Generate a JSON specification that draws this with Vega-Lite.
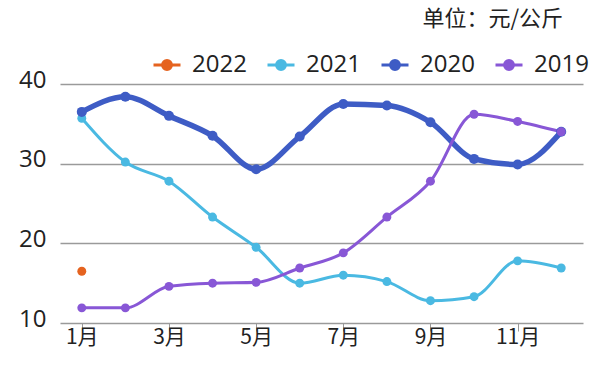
{
  "$schema": "https://vega.github.io/schema/vega-lite/v6.json",
  "width": 523,
  "height": 239,
  "autosize": {"type": "none"},
  "padding": {"left": 60, "top": 84, "right": 17, "bottom": 56},
  "background": "white",
  "title": {
    "text": "单位：元/公斤",
    "anchor": "end",
    "orient": "top",
    "frame": "group",
    "font": "Noto Sans CJK SC",
    "fontSize": 22,
    "fontWeight": "normal",
    "color": "#222222",
    "offset": 19,
    "dx": -20
  },
  "config": {"view": {"stroke": null}},
  "data": {
    "values": [
      {"year": "2021", "month": 1, "price": 35.7},
      {"year": "2021", "month": 2, "price": 30.2},
      {"year": "2021", "month": 3, "price": 27.8},
      {"year": "2021", "month": 4, "price": 23.3},
      {"year": "2021", "month": 5, "price": 19.5},
      {"year": "2021", "month": 6, "price": 15.0},
      {"year": "2021", "month": 7, "price": 16.0},
      {"year": "2021", "month": 8, "price": 15.2},
      {"year": "2021", "month": 9, "price": 12.8},
      {"year": "2021", "month": 10, "price": 13.3},
      {"year": "2021", "month": 11, "price": 17.8},
      {"year": "2021", "month": 12, "price": 16.9},
      {"year": "2020", "month": 1, "price": 36.5},
      {"year": "2020", "month": 2, "price": 38.4},
      {"year": "2020", "month": 3, "price": 36.0},
      {"year": "2020", "month": 4, "price": 33.5},
      {"year": "2020", "month": 5, "price": 29.3},
      {"year": "2020", "month": 6, "price": 33.4},
      {"year": "2020", "month": 7, "price": 37.5},
      {"year": "2020", "month": 8, "price": 37.3},
      {"year": "2020", "month": 9, "price": 35.2},
      {"year": "2020", "month": 10, "price": 30.6},
      {"year": "2020", "month": 11, "price": 29.9},
      {"year": "2020", "month": 12, "price": 34.0},
      {"year": "2019", "month": 1, "price": 11.9},
      {"year": "2019", "month": 2, "price": 11.9},
      {"year": "2019", "month": 3, "price": 14.6},
      {"year": "2019", "month": 4, "price": 15.0},
      {"year": "2019", "month": 5, "price": 15.1},
      {"year": "2019", "month": 6, "price": 16.9},
      {"year": "2019", "month": 7, "price": 18.8},
      {"year": "2019", "month": 8, "price": 23.3},
      {"year": "2019", "month": 9, "price": 27.8},
      {"year": "2019", "month": 10, "price": 36.2},
      {"year": "2019", "month": 11, "price": 35.3},
      {"year": "2019", "month": 12, "price": 34.0},
      {"year": "2022", "month": 1, "price": 16.5}
    ]
  },
  "encoding": {
    "x": {
      "field": "month",
      "type": "quantitative",
      "scale": {"domain": [0.5, 12.5], "nice": false, "zero": false},
      "axis": {
        "title": null,
        "values": [1, 3, 5, 7, 9, 11],
        "labelExpr": "datum.value + '月'",
        "grid": false,
        "domain": false,
        "tickSize": 8,
        "tickColor": "#999999",
        "tickWidth": 1,
        "labelFont": "Noto Sans CJK SC",
        "labelFontSize": 21,
        "labelColor": "#222222",
        "labelPadding": -5
      }
    },
    "y": {
      "field": "price",
      "type": "quantitative",
      "scale": {"domain": [10, 40], "nice": false, "zero": false},
      "axis": {
        "title": null,
        "values": [10, 20, 30, 40],
        "domain": false,
        "ticks": false,
        "gridColor": "#9a9a9a",
        "gridWidth": 1.5,
        "gridOpacity": 1,
        "labelFont": "Open Sans",
        "labelFontSize": 24,
        "labelColor": "#222222",
        "labelPadding": 14,
        "labelOffset": -4
      }
    },
    "color": {
      "field": "year",
      "type": "nominal",
      "scale": {
        "domain": ["2022", "2021", "2020", "2019"],
        "range": ["#e5631f", "#4ab9e2", "#3e5cc5", "#8857d6"]
      },
      "legend": {
        "title": null,
        "orient": "none",
        "direction": "horizontal",
        "legendX": 92,
        "legendY": -34,
        "symbolType": "M-1,0L1,0M-0.33,0A0.33,0.33,0,1,0,0.33,0A0.33,0.33,0,1,0,-0.33,0Z",
        "symbolSize": 729,
        "symbolStrokeWidth": 3,
        "labelFont": "Open Sans",
        "labelFontSize": 24,
        "labelColor": "#222222",
        "labelOffset": 10,
        "columnPadding": 14,
        "encode": {
          "symbols": {
            "update": {
              "fill": {"scale": "color", "field": "value"},
              "stroke": {"scale": "color", "field": "value"},
              "opacity": {"value": 1}
            }
          }
        }
      }
    }
  },
  "layer": [
    {
      "mark": {"type": "line", "interpolate": "monotone"},
      "encoding": {
        "strokeWidth": {
          "condition": {"test": "datum.year === '2020'", "value": 5.5},
          "value": 3
        }
      }
    },
    {
      "mark": {"type": "point", "filled": true, "opacity": 1},
      "encoding": {
        "size": {
          "condition": {"test": "datum.year === '2020'", "value": 100},
          "value": 80
        }
      }
    }
  ]
}
